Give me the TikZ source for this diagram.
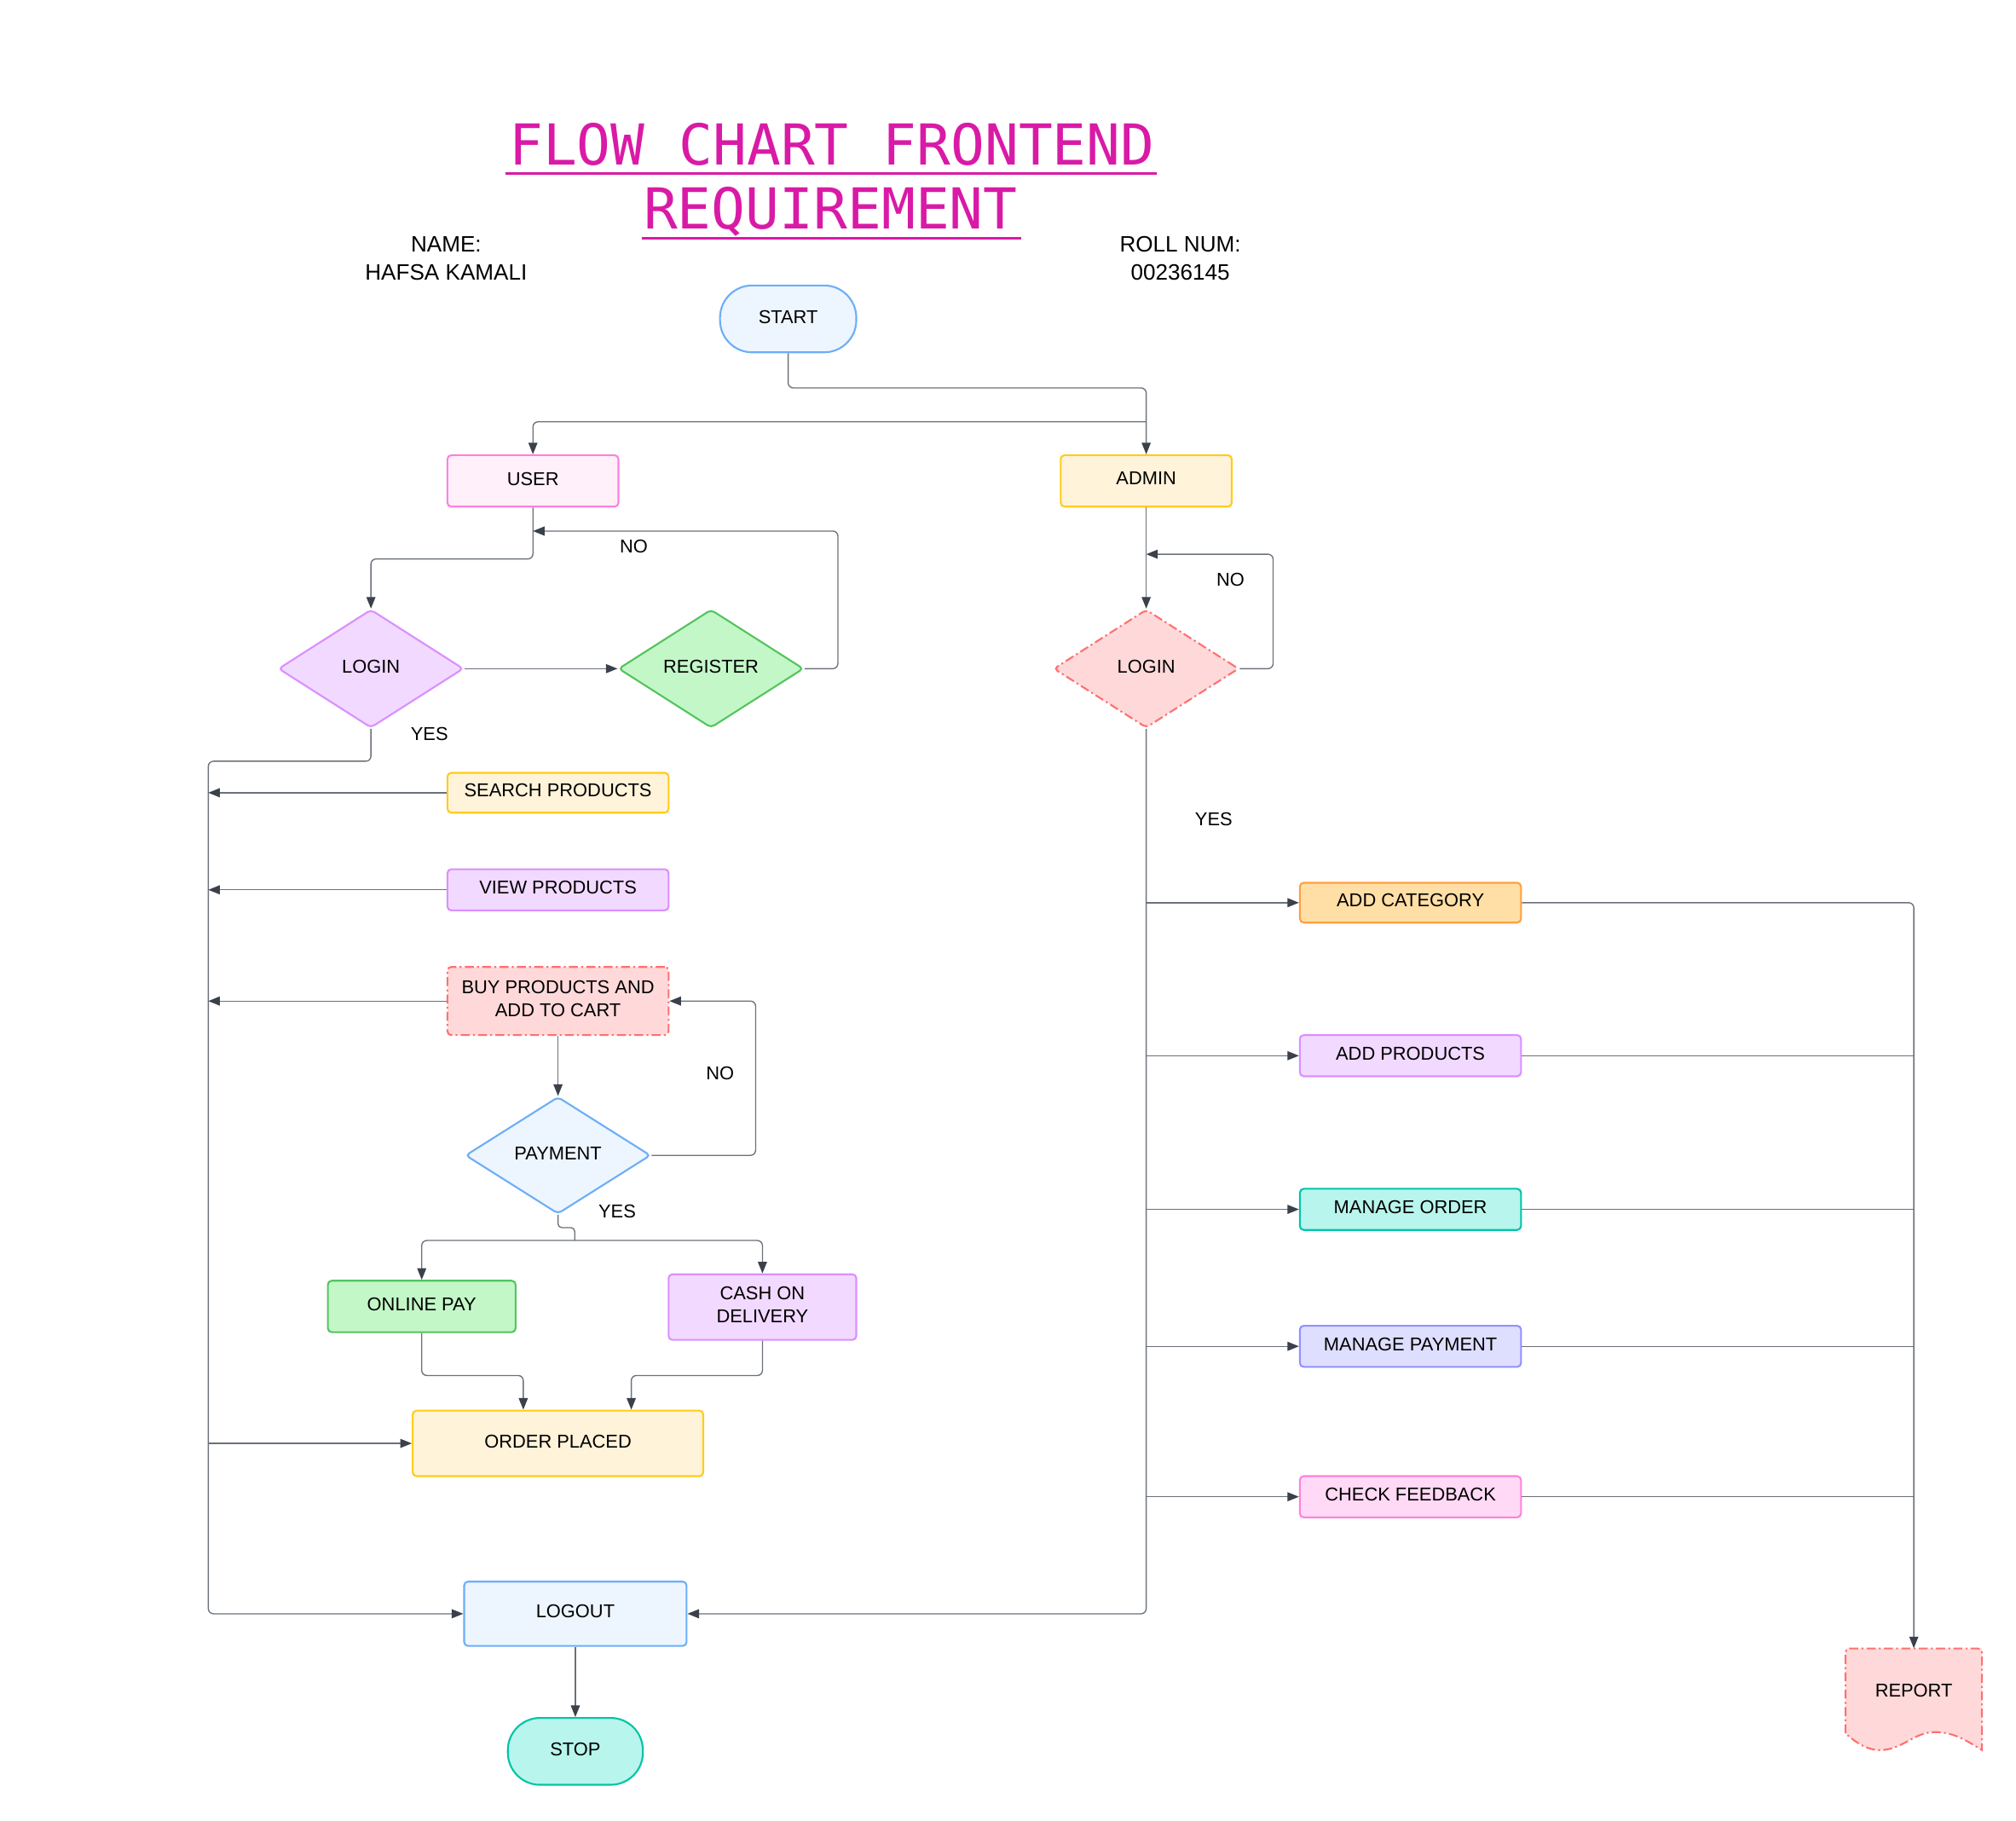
\documentclass[tikz,border=0pt]{standalone}
\usepackage{fontspec}
\setmainfont{Liberation Sans}
\newfontfamily\titlefont{DejaVu Sans Mono}
\usetikzlibrary{shapes.geometric,arrows.meta,calc,backgrounds}
\definecolor{blueF}{HTML}{EDF5FF}\definecolor{blueS}{HTML}{6DAEF7}
\definecolor{pinkF}{HTML}{FFF0FA}\definecolor{pinkS}{HTML}{FF80DF}
\definecolor{pinkTF}{HTML}{FFD9F5}
\definecolor{yelF}{HTML}{FFF3D9}\definecolor{yelS}{HTML}{FFCC1A}
\definecolor{purF}{HTML}{F2D9FF}\definecolor{purS}{HTML}{DA8FFF}
\definecolor{grnF}{HTML}{C3F7C8}\definecolor{grnS}{HTML}{54C45E}
\definecolor{redF}{HTML}{FFD9D9}\definecolor{redS}{HTML}{FF7070}
\definecolor{orgF}{HTML}{FFDFA6}\definecolor{orgS}{HTML}{FF9F40}
\definecolor{tealF}{HTML}{B8F5ED}\definecolor{tealS}{HTML}{00C4A8}
\definecolor{indF}{HTML}{DEDEFF}\definecolor{indS}{HTML}{9391FF}
\definecolor{linec}{HTML}{6B717A}\definecolor{arrowc}{HTML}{3A414A}
\definecolor{titlec}{HTML}{D91AA6}
\begin{document}
\begin{tikzpicture}[x=1pt,y=-1pt,
  txt/.style={font=\fontsize{14.5}{18}\selectfont},
  box/.style={draw, rectangle, rounded corners=3pt, line width=1.4pt, inner sep=0pt, align=center, txt, text depth=3.5pt},
  dia/.style={draw, diamond, aspect=1.55, minimum width=144pt, minimum height=92pt, inner sep=0pt, line width=1.4pt, rounded corners=3pt, txt, text depth=3.5pt},
  term/.style={box, rounded corners=25pt, minimum width=106pt, minimum height=52pt},
  dashdot/.style={dash pattern=on 7pt off 2.5pt on 1.5pt off 2.5pt},
  conn/.style={draw=linec, line width=0.9pt, rounded corners=4pt},
  arr/.style={conn, -{Triangle[length=9pt,width=7pt,color=arrowc]}},
  lbl/.style={txt, inner sep=0pt},
  blue/.style={fill=blueF, draw=blueS},
  pink/.style={fill=pinkF, draw=pinkS},
  yel/.style={fill=yelF, draw=yelS},
  pur/.style={fill=purF, draw=purS},
  grn/.style={fill=grnF, draw=grnS},
  red/.style={fill=redF, draw=redS, dashdot},
  org/.style={fill=orgF, draw=orgS},
  teal/.style={fill=tealF, draw=tealS},
  ind/.style={fill=indF, draw=indS}]
\useasboundingbox (0,0) rectangle (1568,1416);

% title
\node[anchor=base, inner sep=0pt, text=titlec, font=\titlefont\fontsize{43.9}{44}\selectfont] (t1) at (647,128) {FLOW CHART FRONTEND};
\node[anchor=base, inner sep=0pt, text=titlec, font=\titlefont\fontsize{43.9}{44}\selectfont] (t2) at (646,178) {REQUIREMENT};
\draw[titlec, line width=2pt] (393,135) -- (900,135);
\draw[titlec, line width=2pt] (499,185) -- (794,185);
\node[align=center, inner sep=0pt, font=\fontsize{17.3}{22}\selectfont] (name) at (347,201) {NAME:\\HAFSA KAMALI};
\node[align=center, inner sep=0pt, font=\fontsize{17.3}{22}\selectfont] (roll) at (918,201) {ROLL NUM:\\00236145};

% nodes
\node[term, blue] (start) at (613,248) {START};
\node[box, pink, minimum width=133pt, minimum height=40pt] (user) at (414.5,374) {USER};
\node[box, yel, minimum width=133pt, minimum height=40pt] (admin) at (891.5,374) {ADMIN};
\node[dia, pur] (ulogin) at (288.5,520) {LOGIN};
\node[dia, grn] (reg) at (553,520) {REGISTER};
\node[dia, red] (alogin) at (891.5,520) {LOGIN};
\node[box, yel, minimum width=172pt, minimum height=31pt] (search) at (434,616.5) {SEARCH PRODUCTS};
\node[box, pur, minimum width=172pt, minimum height=32pt] (view) at (434,692) {VIEW PRODUCTS};
\node[box, red, minimum width=172pt, minimum height=53pt] (buy) at (434,778.5) {BUY PRODUCTS AND\\ADD TO CART};
\node[dia, blue, minimum width=144pt, minimum height=91pt] (pay) at (434,898.5) {PAYMENT};
\node[box, grn, minimum width=146pt, minimum height=40pt] (online) at (328,1016) {ONLINE PAY};
\node[box, pur, minimum width=146pt, minimum height=51pt] (cod) at (593,1016.5) {CASH ON\\DELIVERY};
\node[box, yel, minimum width=226pt, minimum height=51pt] (order) at (434,1122.5) {ORDER PLACED};
\node[box, blue, minimum width=173pt, minimum height=50pt] (logout) at (447.5,1255) {LOGOUT};
\node[term, teal, minimum width=105pt] (stop) at (447.5,1362) {STOP};
\node[box, org, minimum width=172pt, minimum height=31pt] (addcat) at (1097,702) {ADD CATEGORY};
\node[box, pur, minimum width=172pt, minimum height=32pt] (addprod) at (1097,821) {ADD PRODUCTS};
\node[box, teal, minimum width=172pt, minimum height=32pt] (mo) at (1097,940.5) {MANAGE ORDER};
\node[box, ind, minimum width=172pt, minimum height=32pt] (mp) at (1097,1047) {MANAGE PAYMENT};
\node[box, fill=pinkTF, draw=pinkS, minimum width=172pt, minimum height=32pt] (cf) at (1097,1164) {CHECK FEEDBACK};
\node[txt, inner sep=0pt, minimum width=106pt, minimum height=66pt] (report) at (1488.5,1315) {REPORT};
\begin{scope}[on background layer]
\fill[redF] (1435.4,1348) -- (1435.4,1282) -- (1541.5,1282) -- (1541.5,1361)
  .. controls (1530,1354) and (1520,1347) .. (1505,1347)
  .. controls (1488,1347) and (1480,1361) .. (1462,1361)
  .. controls (1450,1361) and (1440,1352) .. (1435.4,1348) -- cycle;
\draw[redS, line width=1.4pt, dashdot] (1435.4,1348) [rounded corners=3pt] -- (1435.4,1282) -- (1541.5,1282) [sharp corners] -- (1541.5,1361)
  .. controls (1530,1354) and (1520,1347) .. (1505,1347)
  .. controls (1488,1347) and (1480,1361) .. (1462,1361)
  .. controls (1450,1361) and (1440,1352) .. (1435.4,1348);
\end{scope}

% labels
\node[lbl] (no1) at (493,425) {NO};
\node[lbl] (yes1) at (334,571) {YES};
\node[lbl] (no2) at (560,835) {NO};
\node[lbl] (yes2) at (480,942) {YES};
\node[lbl] (no3) at (957,451) {NO};
\node[lbl] (yes3) at (944,637) {YES};

% junction coordinates
\coordinate (j1) at (891.5,328);
\coordinate (j2) at (414.5,413);
\coordinate (ul) at (162,592);
\coordinate (j4) at (891.5,431);

% connectors
\draw[arr] (start.south) -- ++(0,27) -| (admin.north);
\draw[arr] (j1) -| (user.north);
\draw[arr] (user.south) -- ++(0,40) -| (ulogin.north);
\draw[arr] (ulogin.east) -- (reg.west);
\draw[arr] (reg.east) -- ++(26,0) |- (j2);
\draw[arr] (ulogin.south) |- (ul) |- (logout.west);
\draw[arr] (search.west) -- (search.west -| ul);
\draw[arr] (view.west) -- (view.west -| ul);
\draw[arr] (buy.west) -- (buy.west -| ul);
\draw[arr] (order.west -| ul) -- (order.west);
\draw[arr] (buy.south) -- (pay.north);
\draw[arr] (pay.east) -- ++(81,0) |- (buy.east);
\draw[conn, rounded corners=3pt] (pay.south) -- ++(0,10) -- ++(13,0) -- ++(0,10) coordinate (j3);
\draw[arr] (j3) -| (online.north);
\draw[arr] (j3) -| (cod.north);
\draw[arr] (online.south) -- ++(0,33) -| ([xshift=-27pt]order.north);
\draw[arr] (cod.south) -- ++(0,27) -| ([xshift=57pt]order.north);
\draw[arr] (logout.south) -- (stop.north);
\draw[arr] (admin.south) -- (alogin.north);
\draw[arr] (alogin.east) -- ++(26,0) |- (j4);
\draw[arr] (alogin.south) |- (logout.east);
\draw[arr] (alogin.south |- addcat.west) -- (addcat.west);
\draw[arr] (alogin.south |- addprod.west) -- (addprod.west);
\draw[arr] (alogin.south |- mo.west) -- (mo.west);
\draw[arr] (alogin.south |- mp.west) -- (mp.west);
\draw[arr] (alogin.south |- cf.west) -- (cf.west);
\draw[arr] (addcat.east) -| (report.north);
\draw[conn] (addprod.east) -- (addprod.east -| report.north);
\draw[conn] (mo.east) -- (mo.east -| report.north);
\draw[conn] (mp.east) -- (mp.east -| report.north);
\draw[conn] (cf.east) -- (cf.east -| report.north);
\end{tikzpicture}
\end{document}
